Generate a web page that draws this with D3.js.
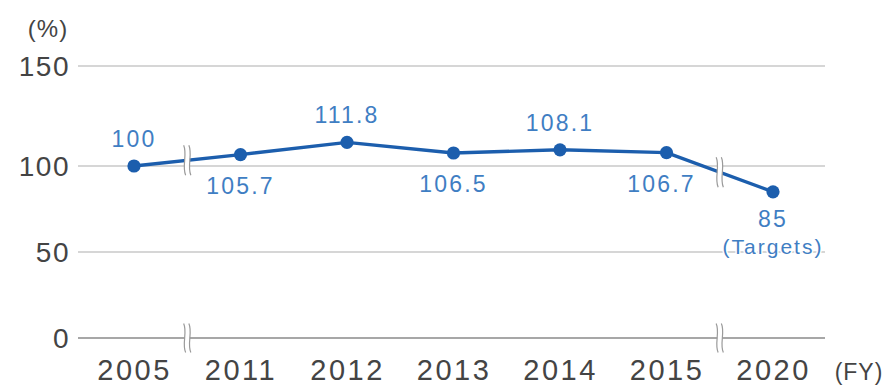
<!DOCTYPE html>
<html>
<head>
<meta charset="utf-8">
<script src="https://cdn.jsdelivr.net/npm/d3@7"></script>
<style>
  html, body { margin: 0; padding: 0; background: #fff; }
  svg { display: block; }
  text { font-family: "Liberation Sans", Arial, Helvetica, sans-serif; }
</style>
</head>
<body>
<svg id="chart" width="886" height="385"></svg>
<script>
// Fiscal years on the category axis
const years = ["2005", "2011", "2012", "2013", "2014", "2015", "2020"];
// Index values (FY2005 = 100); 2020 is the target
const values = [100, 105.7, 111.8, 106.5, 108.1, 106.7, 85];
// Label text shown by each point
const valueLabels = ["100", "105.7", "111.8", "106.5", "108.1", "106.7", "85"];
// Which side of the point each label sits on
const labelSide = ["above", "below", "above", "below", "above", "below", "below"];
// Y axis tick values
const yTicks = [0, 50, 100, 150];
// Axis breaks sit between these pairs of years
const breaks = [["2005", "2011"], ["2015", "2020"]];

const svg = d3.select("#chart");

const lineColor = "#1c5ead";
const labelColor = "#3f7ec3";
const axisText = "#444";

const gridLeft = 78, gridRight = 825;

const x = d3.scalePoint().domain(years).range([134, 773]);
// Vertical scale: lower half of the axis is compressed
const y = d3.scaleLinear().domain(yTicks).range([338, 252, 166, 66]);

// Gridlines
svg.append("g")
  .selectAll("line")
  .data(yTicks)
  .join("line")
  .attr("x1", gridLeft)
  .attr("x2", gridRight)
  .attr("y1", d => y(d))
  .attr("y2", d => y(d))
  .attr("stroke", d => d === 0 ? "#8a8a8a" : "#c9c9c9")
  .attr("stroke-width", 1.6);

// Y axis labels
const yAxis = d3.axisLeft(y).tickValues(yTicks).tickSize(0).tickPadding(0);
const yg = svg.append("g").attr("transform", `translate(${gridLeft - 8},0)`).call(yAxis);
yg.select(".domain").remove();
yg.selectAll("text")
  .attr("font-size", 28)
  .attr("letter-spacing", 1.5)
  .attr("fill", axisText)
  .attr("dy", "0.34em")
  .style("font-family", "'Liberation Sans', Arial, sans-serif");

// X axis labels
const xAxis = d3.axisBottom(x).tickSize(0).tickPadding(0);
const xg = svg.append("g").attr("transform", "translate(0,359)").call(xAxis);
xg.select(".domain").remove();
xg.selectAll("text")
  .attr("font-size", 29)
  .attr("letter-spacing", 2.5)
  .attr("fill", axisText)
  .attr("dy", "0.72em")
  .style("font-family", "'Liberation Sans', Arial, sans-serif");

// Unit labels
svg.append("text").attr("x", 48).attr("y", 37).attr("text-anchor", "middle")
  .attr("font-size", 24).attr("letter-spacing", 1).attr("fill", axisText).text("(%)");
svg.append("text").attr("x", 859).attr("y", 380).attr("text-anchor", "middle")
  .attr("font-size", 23).attr("letter-spacing", 1).attr("fill", axisText).text("(FY)");

// Data line
const pts = years.map((yr, i) => ({ year: yr, value: values[i], label: valueLabels[i], side: labelSide[i] }));
const line = d3.line().x(d => x(d.year)).y(d => y(d.value));
svg.append("path")
  .datum(pts)
  .attr("d", line)
  .attr("fill", "none")
  .attr("stroke", lineColor)
  .attr("stroke-width", 3.4)
  .attr("stroke-linejoin", "round");

// Break marks on the line and on the baseline
function breakMark(cx, cy, half) {
  const g = svg.append("g");
  g.append("rect")
    .attr("x", cx - 2.5).attr("y", cy - half)
    .attr("width", 5).attr("height", half * 2)
    .attr("fill", "#fff");
  [-2.6, 2.6].forEach(off => {
    const bx = cx + off, t = cy - half, b = cy + half;
    g.append("path")
      .attr("d", `M${bx - 1},${t} C${bx + 3},${t + half * 0.6} ${bx - 3},${b - half * 0.6} ${bx + 1},${b}`)
      .attr("fill", "none")
      .attr("stroke", "#9a9a9a")
      .attr("stroke-width", 1.2);
  });
}
breaks.forEach(([a, b]) => {
  const i = years.indexOf(a), j = years.indexOf(b);
  const mx = (x(a) + x(b)) / 2;
  const my = (y(values[i]) + y(values[j])) / 2;
  breakMark(mx, my, 15);
  breakMark(mx, y(0), 14.5);
});

// Points
svg.append("g")
  .selectAll("circle")
  .data(pts)
  .join("circle")
  .attr("cx", d => x(d.year))
  .attr("cy", d => y(d.value))
  .attr("r", 6.6)
  .attr("fill", lineColor);

// Value labels
svg.append("g")
  .selectAll("text")
  .data(pts)
  .join("text")
  .attr("x", d => x(d.year) + (d.year === "2015" ? -5 : 0))
  .attr("y", d => y(d.value) + (d.side === "above" ? -19 : (d.year === "2020" ? 35 : 39)))
  .attr("text-anchor", "middle")
  .attr("font-size", 23)
  .attr("letter-spacing", 2.2)
  .attr("fill", labelColor)
  .text(d => d.label);

// Target note under the 2020 value
svg.append("text")
  .attr("x", x("2020"))
  .attr("y", y(values[6]) + 62)
  .attr("text-anchor", "middle")
  .attr("font-size", 21)
  .attr("letter-spacing", 2)
  .attr("fill", labelColor)
  .attr("stroke", "#fff")
  .attr("stroke-width", 3)
  .attr("paint-order", "stroke")
  .text("(Targets)");
</script>
</body>
</html>
